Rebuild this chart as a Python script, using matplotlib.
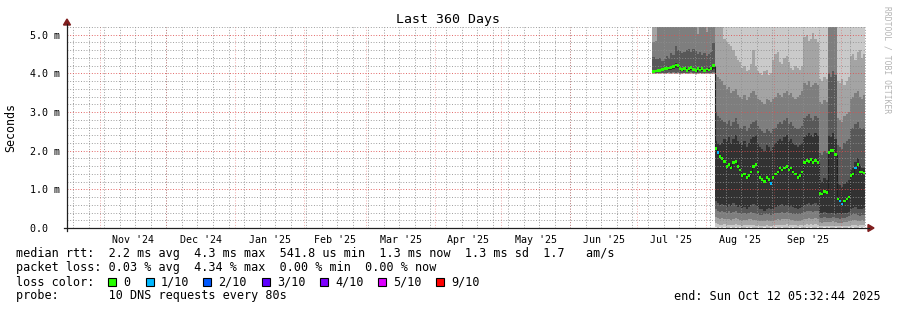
import numpy as np
import matplotlib
matplotlib.use("Agg")
import matplotlib.pyplot as plt
import matplotlib.dates as mdates
from matplotlib.patches import Polygon, Rectangle
from matplotlib.lines import Line2D
from datetime import datetime, timedelta

# ---------------- data ----------------
title = "Last 360 Days"
y_label = "Seconds"
range_start = datetime(2024, 10, 17, 5, 32, 44)
range_end = datetime(2025, 10, 12, 5, 32, 44)
data_start = datetime(2025, 7, 8)

month_starts = [datetime(2024, 11, 1), datetime(2024, 12, 1), datetime(2025, 1, 1),
                datetime(2025, 2, 1), datetime(2025, 3, 1), datetime(2025, 4, 1),
                datetime(2025, 5, 1), datetime(2025, 6, 1), datetime(2025, 7, 1),
                datetime(2025, 8, 1), datetime(2025, 9, 1), datetime(2025, 10, 1)]
month_labels = ["Nov '24", "Dec '24", "Jan '25", "Feb '25", "Mar '25", "Apr '25",
                "May '25", "Jun '25", "Jul '25", "Aug '25", "Sep '25"]

y_ticks = [0, 1, 2, 3, 4, 5]
y_tick_labels = ["0.0  ", "1.0 m", "2.0 m", "3.0 m", "4.0 m", "5.0 m"]

# median rtt (ms), one value per day from data_start
median = [4.05, 4.06, 4.08, 4.08, 4.10, 4.12, 4.13, 4.14, 4.16, 4.18,
          4.22, 4.20, 4.12, 4.10, 4.13, 4.08, 4.12, 4.15, 4.10, 4.07,
          4.13, 4.09, 4.12, 4.08, 4.11, 4.09, 4.12, 4.20] + \
         [2.05, 1.95, 1.85, 1.80, 1.72, 1.60, 1.65, 1.55, 1.70, 1.72,
          1.60, 1.50, 1.35, 1.40, 1.30, 1.35, 1.45, 1.60, 1.65, 1.45,
          1.30, 1.25, 1.20, 1.30, 1.25, 1.15, 1.30, 1.40, 1.45, 1.55,
          1.50, 1.55, 1.60, 1.50, 1.55, 1.45, 1.40, 1.30, 1.35, 1.45,
          1.70, 1.75, 1.72, 1.78, 1.70, 1.75, 1.70, 0.90, 0.88, 0.95,
          0.92, 1.95, 2.00, 2.00, 1.90, 0.75, 0.70, 0.62, 0.70, 0.75,
          0.80, 1.35, 1.40, 1.55, 1.65, 1.45, 1.45, 1.42]

# loss level index per day (0 -> "0", 1 -> "1/10")
loss = [0, 0, 0, 0, 0, 0, 0, 0, 0, 0, 0, 0, 0, 0,
        0, 0, 0, 0, 0, 0, 0, 0, 0, 0, 0, 0, 0, 0] + \
       [0, 1, 0, 0, 0, 0, 0, 0, 0, 0,
        0, 0, 0, 0, 0, 0, 0, 0, 0, 0,
        0, 0, 0, 0, 0, 1, 0, 0, 0, 0,
        0, 0, 0, 0, 0, 0, 0, 0, 0, 0,
        0, 0, 0, 0, 0, 0, 0, 0, 0, 0,
        0, 0, 0, 0, 0, 0, 1, 1, 0, 0,
        0, 0, 0, 1, 0, 0, 0, 0]

# sorted ping values (ms) per day: p1 lowest ... p10 highest
p1 = [3.98, 3.98, 3.99, 3.98, 3.99, 3.98, 3.99, 3.99, 3.98, 3.99, 3.98, 3.99, 3.97, 3.98,
      3.99, 3.98, 3.98, 3.99, 3.98, 3.97, 3.98, 3.99, 3.98, 3.98, 3.99, 3.98, 3.98, 3.98] + \
     [0.02, 0.01, 0.02, 0.01, 0.02, 0.01, 0.01, 0.02, 0.01, 0.02,
      0.01, 0.02, 0.01, 0.01, 0.02, 0.01, 0.02, 0.01, 0.01, 0.02,
      0.01, 0.01, 0.02, 0.01, 0.01, 0.02, 0.01, 0.02, 0.01, 0.01,
      0.02, 0.01, 0.01, 0.02, 0.01, 0.02, 0.01, 0.01, 0.02, 0.01,
      0.01, 0.02, 0.01, 0.02, 0.01, 0.01, 0.02, 0.01, 0.01, 0.02,
      0.01, 0.02, 0.01, 0.01, 0.02, 0.01, 0.01, 0.02, 0.01, 0.01,
      0.02, 0.01, 0.02, 0.01, 0.01, 0.02, 0.01, 0.02]
p2 = [3.99, 3.99, 4.00, 3.99, 4.00, 3.99, 4.00, 4.00, 3.99, 4.00, 3.99, 4.00, 3.98, 3.99,
      4.00, 3.99, 3.99, 4.00, 3.99, 3.98, 3.99, 4.00, 3.99, 3.99, 4.00, 3.99, 3.99, 3.99] + \
     [0.12, 0.10, 0.09, 0.08, 0.10, 0.08, 0.07, 0.09, 0.08, 0.10,
      0.07, 0.08, 0.06, 0.07, 0.08, 0.09, 0.08, 0.07, 0.06, 0.07,
      0.06, 0.05, 0.06, 0.07, 0.06, 0.05, 0.07, 0.08, 0.09, 0.08,
      0.09, 0.08, 0.10, 0.09, 0.08, 0.07, 0.07, 0.06, 0.07, 0.08,
      0.09, 0.10, 0.09, 0.10, 0.09, 0.10, 0.09, 0.05, 0.04, 0.05,
      0.04, 0.06, 0.05, 0.06, 0.05, 0.04, 0.05, 0.04, 0.05, 0.05,
      0.06, 0.07, 0.08, 0.07, 0.06, 0.07, 0.08, 0.07]
p3 = [4.00, 4.00, 4.01, 4.00, 4.01, 4.00, 4.01, 4.01, 4.00, 4.01, 4.00, 4.01, 3.99, 4.00,
      4.01, 4.00, 4.00, 4.01, 4.00, 3.99, 4.00, 4.01, 4.00, 4.00, 4.01, 4.00, 4.00, 4.00] + \
     [0.28, 0.26, 0.24, 0.25, 0.24, 0.22, 0.23, 0.21, 0.24, 0.25,
      0.22, 0.20, 0.19, 0.21, 0.20, 0.22, 0.23, 0.21, 0.20, 0.19,
      0.18, 0.17, 0.19, 0.20, 0.18, 0.17, 0.19, 0.21, 0.22, 0.21,
      0.23, 0.22, 0.24, 0.22, 0.21, 0.20, 0.19, 0.18, 0.19, 0.21,
      0.23, 0.24, 0.25, 0.24, 0.23, 0.25, 0.24, 0.15, 0.14, 0.16,
      0.15, 0.16, 0.15, 0.17, 0.16, 0.14, 0.13, 0.14, 0.15, 0.16,
      0.18, 0.19, 0.21, 0.20, 0.19, 0.18, 0.20, 0.19]
p4 = [4.01, 4.01, 4.02, 4.01, 4.02, 4.02, 4.02, 4.03, 4.02, 4.03, 4.02, 4.03, 4.01, 4.02,
      4.02, 4.01, 4.02, 4.03, 4.02, 4.01, 4.02, 4.02, 4.02, 4.01, 4.02, 4.02, 4.02, 4.03] + \
     [0.48, 0.45, 0.42, 0.44, 0.42, 0.40, 0.43, 0.39, 0.42, 0.44,
      0.40, 0.38, 0.36, 0.39, 0.37, 0.40, 0.42, 0.39, 0.37, 0.36,
      0.34, 0.33, 0.35, 0.37, 0.35, 0.33, 0.36, 0.38, 0.40, 0.39,
      0.41, 0.40, 0.42, 0.40, 0.39, 0.37, 0.36, 0.35, 0.36, 0.38,
      0.42, 0.44, 0.45, 0.43, 0.42, 0.45, 0.43, 0.27, 0.25, 0.28,
      0.26, 0.26, 0.27, 0.29, 0.27, 0.26, 0.24, 0.25, 0.27, 0.28,
      0.32, 0.34, 0.36, 0.35, 0.33, 0.32, 0.34, 0.33]
p5 = [4.03, 4.04, 4.05, 4.05, 4.06, 4.08, 4.08, 4.09, 4.10, 4.12, 4.14, 4.13, 4.07, 4.06,
      4.08, 4.05, 4.07, 4.09, 4.06, 4.04, 4.08, 4.06, 4.07, 4.05, 4.07, 4.06, 4.08, 4.12] + \
     [0.70, 0.65, 0.60, 0.62, 0.60, 0.55, 0.62, 0.58, 0.65, 0.60,
      0.55, 0.58, 0.52, 0.55, 0.50, 0.55, 0.60, 0.62, 0.58, 0.55,
      0.50, 0.48, 0.45, 0.50, 0.52, 0.48, 0.50, 0.55, 0.58, 0.60,
      0.62, 0.58, 0.60, 0.55, 0.58, 0.55, 0.52, 0.50, 0.52, 0.55,
      0.60, 0.62, 0.65, 0.60, 0.62, 0.65, 0.60, 0.40, 0.38, 0.42,
      0.40, 0.35, 0.38, 0.40, 0.35, 0.40, 0.38, 0.35, 0.38, 0.40,
      0.42, 0.50, 0.52, 0.55, 0.50, 0.48, 0.50, 0.52]
p6 = [4.09, 4.10, 4.12, 4.12, 4.14, 4.16, 4.17, 4.18, 4.20, 4.22, 4.26, 4.24, 4.16, 4.14,
      4.17, 4.12, 4.16, 4.19, 4.14, 4.11, 4.17, 4.13, 4.16, 4.12, 4.15, 4.13, 4.16, 4.24] + \
     [2.25, 2.20, 2.15, 2.20, 2.30, 2.25, 2.35, 2.20, 2.30, 2.40,
      2.25, 2.20, 2.15, 2.25, 2.10, 2.20, 2.30, 2.35, 2.40, 2.20,
      2.10, 2.05, 2.00, 2.15, 2.10, 2.00, 2.10, 2.20, 2.25, 2.30,
      2.25, 2.35, 2.40, 2.25, 2.30, 2.20, 2.15, 2.10, 2.15, 2.20,
      2.35, 2.40, 2.45, 2.40, 2.35, 2.45, 2.40, 1.25, 1.20, 1.30,
      1.25, 2.40, 2.35, 2.45, 2.30, 1.15, 1.10, 1.05, 1.15, 1.20,
      1.25, 1.50, 1.55, 1.70, 1.80, 1.60, 1.55, 1.55]
p7 = [4.42, 4.38, 4.36, 4.40, 4.33, 4.38, 4.45, 4.40, 4.52, 4.47, 4.72, 4.60, 4.58, 4.52,
      4.55, 4.60, 4.62, 4.55, 4.64, 4.58, 4.50, 4.56, 4.47, 4.53, 4.46, 4.50, 4.55, 4.78] + \
     [3.00, 2.90, 2.85, 2.80, 2.75, 2.70, 2.80, 2.65, 2.75, 2.85,
      2.70, 2.60, 2.55, 2.65, 2.50, 2.60, 2.70, 2.75, 2.80, 2.65,
      2.55, 2.50, 2.45, 2.55, 2.50, 2.45, 2.55, 2.60, 2.70, 2.75,
      2.70, 2.80, 2.85, 2.70, 2.75, 2.65, 2.60, 2.55, 2.60, 2.65,
      2.85, 2.90, 2.95, 2.85, 2.80, 2.90, 2.85, 1.95, 1.90, 2.00,
      1.95, 4.00, 3.90, 4.05, 3.95, 2.15, 2.10, 2.05, 2.20, 2.25,
      2.30, 2.55, 2.60, 2.70, 2.75, 2.60, 2.55, 2.60]
p8 = [4.80, 4.85, 5.35, 5.40, 5.30, 5.45, 5.38, 5.42, 5.35, 5.30, 5.50, 5.40, 5.36, 5.33,
      5.42, 5.38, 5.30, 5.36, 5.28, 5.25, 5.02, 5.30, 5.35, 5.26, 5.06, 5.32, 5.40, 5.45] + \
     [3.95, 3.90, 3.85, 3.80, 3.70, 3.60, 3.65, 3.50, 3.55, 3.60,
      3.45, 3.40, 3.35, 3.45, 3.30, 3.40, 3.50, 3.55, 3.45, 3.35,
      3.30, 3.25, 3.20, 3.35, 3.30, 3.25, 3.35, 3.40, 3.50, 3.45,
      3.40, 3.50, 3.55, 3.45, 3.50, 3.40, 3.35, 3.40, 3.45, 3.55,
      3.75, 3.70, 3.80, 3.65, 3.70, 3.75, 3.70, 3.25, 3.20, 3.30,
      3.25, 5.40, 5.45, 5.50, 5.40, 2.85, 2.80, 2.75, 2.90, 2.95,
      3.00, 3.35, 3.40, 3.50, 3.55, 3.40, 3.35, 3.45]
p9 = [5.50, 5.55, 5.60, 5.58, 5.52, 5.65, 5.60, 5.62, 5.55, 5.50, 5.70, 5.62, 5.58, 5.55,
      5.63, 5.60, 5.52, 5.58, 5.50, 5.48, 5.45, 5.52, 5.56, 5.50, 5.40, 5.55, 5.60, 5.66] + \
     [5.40, 5.35, 5.30, 5.25, 4.90, 4.80, 4.75, 4.70, 4.60, 4.45,
      4.35, 4.30, 4.15, 4.20, 4.05, 4.10, 4.25, 4.60, 4.20, 4.05,
      4.00, 3.95, 4.05, 4.10, 3.95, 4.00, 4.35, 4.50, 4.55, 4.30,
      4.25, 4.40, 4.45, 4.30, 4.15, 4.10, 4.20, 4.15, 4.10, 4.20,
      4.95, 5.00, 4.85, 4.90, 5.05, 4.90, 4.80, 3.85, 3.80, 3.90,
      3.85, 5.60, 5.55, 5.60, 5.50, 3.80, 3.75, 3.85, 3.70, 3.80,
      3.90, 4.45, 4.50, 4.35, 4.55, 4.60, 4.40, 4.50]
p10 = [5.80, 5.85, 5.90, 5.88, 5.82, 5.95, 5.90, 5.92, 5.85, 5.80, 6.00, 5.92, 5.88, 5.85,
       5.93, 5.90, 5.82, 5.88, 5.80, 5.78, 5.75, 5.82, 5.86, 5.80, 5.70, 5.85, 5.90, 5.96] + \
      [5.85, 5.80, 5.78, 5.82, 5.75, 5.80, 5.85, 5.78, 5.72, 5.80,
       5.76, 5.82, 5.79, 5.74, 5.80, 5.85, 5.78, 5.82, 5.76, 5.80,
       5.74, 5.78, 5.82, 5.85, 5.80, 5.76, 5.79, 5.83, 5.80, 5.75,
       5.78, 5.84, 5.80, 5.77, 5.82, 5.79, 5.75, 5.80, 5.83, 5.78,
       5.85, 5.88, 5.82, 5.80, 5.86, 5.84, 5.80, 5.76, 5.74, 5.78,
       5.80, 5.90, 5.88, 5.92, 5.85, 5.78, 5.75, 5.80, 5.77, 5.79,
       5.82, 5.80, 5.84, 5.78, 5.82, 5.85, 5.80, 5.83]

loss_levels = ["0", "1/10", "2/10", "3/10", "4/10", "5/10", "9/10"]
loss_colors = ["#26ff00", "#00b8ff", "#0059ff", "#5e00ff", "#7e00ff", "#dd00ff", "#ff0000"]
smoke_colors = ["#cacaca", "#a4a4a4", "#7e7e7e", "#585858", "#323232"]

stats_rtt = "median rtt:  2.2 ms avg  4.3 ms max  541.8 us min  1.3 ms now  1.3 ms sd  1.7   am/s"
stats_loss = "packet loss: 0.03 % avg  4.34 % max  0.00 % min  0.00 % now"
loss_title = "loss color:"
probe_text = "probe:       10 DNS requests every 80s"
end_text = "end: Sun Oct 12 05:32:44 2025"
credit = "RRDTOOL / TOBI OETIKER"

# ---------------- drawing ----------------
W, H, DPI = 897, 310, 100
MONO = "DejaVu Sans Mono"
plt.rcParams["font.family"] = MONO

fig = plt.figure(figsize=(W / DPI, H / DPI), dpi=DPI, facecolor="white")
X0, X1, Y0, Y1 = 67, 866, 228, 27   # plot area in pixels
ax = fig.add_axes([X0 / W, 1 - Y0 / H, (X1 - X0) / W, (Y0 - Y1) / H])
ax.set_facecolor("white")
for s in ax.spines.values():
    s.set_visible(False)

n = len(median)
t = [data_start + timedelta(days=i) for i in range(n + 1)]
def ext(a):
    return list(a) + [a[-1]]

pairs = [(p1, p10), (p2, p9), (p3, p8), (p4, p7), (p5, p6)]
for (lo, hi), c in zip(pairs, smoke_colors):
    ax.fill_between(t, ext(lo), ext(hi), step="post", color=c, lw=0, zorder=1)

# median line and loss-coloured median marks
ax.step(t, ext(median), where="post", color="#202020", lw=0.8, zorder=2)
sw = 0.035
med = np.array(median)
ax.bar(t[:-1], 2 * sw, bottom=med - sw, width=1.0, align="edge",
       color=[loss_colors[l] for l in loss], lw=0, zorder=3)

ax.set_xlim(range_start, range_end)
ax.set_ylim(0, 5.2)

# grid
minor_col = (0.56, 0.56, 0.56, 0.22)
major_col = (0.87, 0.31, 0.31, 0.55)
dots = (0, (1, 2))
ax.xaxis.set_minor_locator(mdates.WeekdayLocator(byweekday=mdates.SU))
mids = [month_starts[i] + (month_starts[i + 1] - month_starts[i]) / 2
        for i in range(len(month_labels))]
ax.set_xticks(mids, labels=month_labels)
ax.set_yticks(y_ticks, labels=y_tick_labels)
ax.set_yticks(np.arange(0, 5.21, 0.2), minor=True)
ax.grid(which="minor", axis="both", color=minor_col, lw=0.65, ls=dots, zorder=4)
ax.grid(which="major", axis="y", color=major_col, lw=0.65, ls=dots, zorder=4)
for m in month_starts:
    ax.axvline(m, color=major_col, lw=0.65, ls=dots, zorder=4)
ax.set_axisbelow(False)

ax.tick_params(axis="x", which="major", length=0, pad=5, labelsize=7.2)
ax.tick_params(axis="x", which="minor", length=0)
ax.tick_params(axis="y", which="major", length=0, pad=5, labelsize=7.2)
ax.tick_params(axis="y", which="minor", length=0)

# axes lines and arrows (pixel coords)
def fx(x): return x / W
def fy(y): return 1 - y / H
fig.add_artist(Line2D([fx(64), fx(869)], [fy(228), fy(228)], color="#202020", lw=0.9))
fig.add_artist(Line2D([fx(67), fx(67)], [fy(231), fy(24)], color="#202020", lw=0.9))
arrow_col = "#801e1e"
fig.add_artist(Polygon([(fx(868), fy(224.5)), (fx(874), fy(228)), (fx(868), fy(231.5))],
                       closed=True, color=arrow_col, transform=fig.transFigure))
fig.add_artist(Polygon([(fx(63.5), fy(25)), (fx(67), fy(19)), (fx(70.5), fy(25))],
                       closed=True, color=arrow_col, transform=fig.transFigure))

# texts
fig.text(fx(448), fy(19), title, ha="center", va="center", fontsize=9.5, color="black")
fig.text(fx(11), fy(127), y_label, ha="center", va="center", rotation=90, fontsize=8.4)
fig.text(fx(887), fy(60), credit, ha="center", va="center", rotation=270,
         fontsize=5.8, color="#b4b4b4")

fs = 8.5
fig.text(fx(16), fy(254), stats_rtt, ha="left", va="center", fontsize=fs)
fig.text(fx(16), fy(268), stats_loss, ha="left", va="center", fontsize=fs)
fig.text(fx(16), fy(282), loss_title, ha="left", va="center", fontsize=fs)
fig.text(fx(16), fy(296), probe_text, ha="left", va="center", fontsize=fs)
fig.text(fx(881), fy(296), end_text, ha="right", va="center", fontsize=fs)

box_x = [108, 146, 203, 262, 320, 378, 436]
for bx, lab, col in zip(box_x, loss_levels, loss_colors):
    fig.add_artist(Rectangle((fx(bx), fy(286)), 8 / W, 8 / H, transform=fig.transFigure,
                             facecolor=col, edgecolor="black", lw=0.8))
    fig.text(fx(bx + 15), fy(282), lab, ha="left", va="center", fontsize=fs)

fig.savefig("out.png", dpi=DPI, facecolor="white")
